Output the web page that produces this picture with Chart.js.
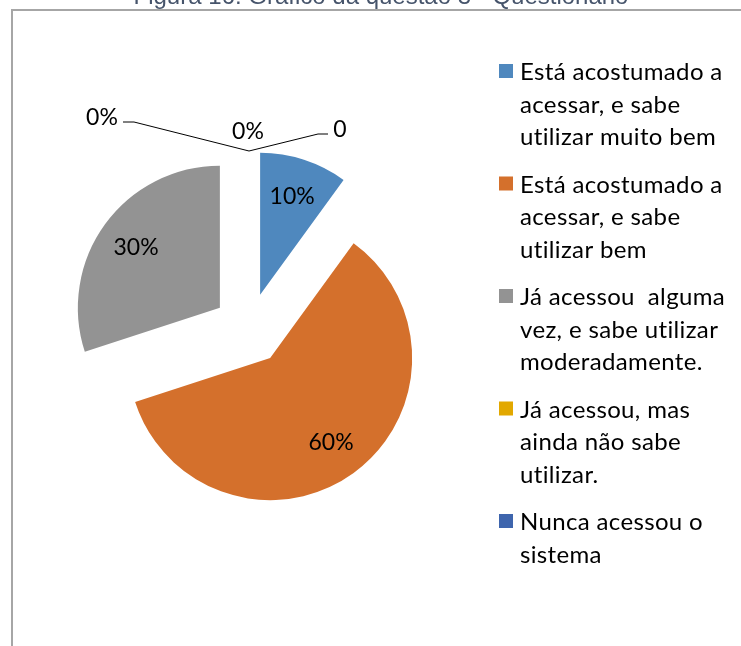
<!DOCTYPE html>
<html>
<head>
<meta charset="utf-8">
<script src="https://cdn.jsdelivr.net/npm/chart.js@4"></script>
<style>
  html, body { margin: 0; padding: 0; background: #ffffff; overflow: hidden; }
  #wrap { position: relative; width: 741px; height: 646px; }
  #frame { position: absolute; left: 11px; top: 9px; width: 800px; height: 700px;
           border-top: 2px solid #a6a6a6; border-left: 2px solid #a6a6a6; }
  #c { position: absolute; left: 0; top: 0; }
</style>
</head>
<body>
<div id="wrap">
  <div id="frame"></div>
  <canvas id="c" width="741" height="646"></canvas>
</div>
<script>
// ---- data ----
const titleText = "Figura 16: Gráfico da questão 3 - Questionário";
const categories = [
  ["Está acostumado a", "acessar, e sabe", "utilizar muito bem"],
  ["Está acostumado a", "acessar, e sabe", "utilizar bem"],
  ["Já acessou  alguma", "vez, e sabe utilizar", "moderadamente."],
  ["Já acessou, mas", "ainda não sabe", "utilizar."],
  ["Nunca acessou o", "sistema"]
];
const values = [10, 60, 30, 0, 0];
const colors = ["#4F88BE", "#D4702C", "#939393", "#E2A800", "#3E65AD"];
const extraZeroLabel = "0";

// ---- style constants ----
const EXPLODE = 36;
const RADIUS = 142;
const LABEL_FONT = "23px Lato";
const LEGEND_FONT = "24px Lato";

const explodePlugin = {
  id: 'explode',
  afterDatasetUpdate(chart, args) {
    args.meta.data.forEach(arc => {
      const mid = (arc.startAngle + arc.endAngle) / 2;
      arc.x += EXPLODE * Math.cos(mid);
      arc.y += EXPLODE * Math.sin(mid);
    });
  }
};

const labelPlugin = {
  id: 'labels',
  afterDatasetsDraw(chart) {
    const ctx = chart.ctx;
    const meta = chart.getDatasetMeta(0);
    const total = values.reduce((a, b) => a + b, 0);
    ctx.save();
    ctx.font = LABEL_FONT;
    ctx.fillStyle = "#000000";
    ctx.textBaseline = "alphabetic";
    ctx.textAlign = "center";
    let zeroIdx = 0;
    let anchor = null;
    meta.data.forEach((arc, i) => {
      const mid = (arc.startAngle + arc.endAngle) / 2;
      const txt = Math.round(values[i] / total * 100) + "%";
      if (values[i] > 0) {
        const r = arc.outerRadius * 0.73;
        const x = arc.x + r * Math.cos(mid);
        const y = arc.y + r * Math.sin(mid);
        ctx.fillText(txt, x, y + 8);
      } else {
        const ax = arc.x + arc.outerRadius * Math.cos(mid);
        const ay = arc.y + arc.outerRadius * Math.sin(mid);
        anchor = [ax, ay];
        if (zeroIdx === 0) {
          ctx.strokeStyle = "#000";
          ctx.lineWidth = 1;
          ctx.beginPath();
          ctx.moveTo(ax, ay);
          ctx.lineTo(ax - 115, ay - 29);
          ctx.lineTo(ax - 126, ay - 29);
          ctx.stroke();
          ctx.fillText(txt, ax - 147, ay - 26);
        } else {
          ctx.fillText(txt, ax - 1, ay - 12);
        }
        zeroIdx++;
      }
    });
    if (anchor) {
      const [ax, ay] = anchor;
      ctx.beginPath();
      ctx.moveTo(ax, ay);
      ctx.lineTo(ax + 69, ay - 17);
      ctx.lineTo(ax + 79, ay - 17);
      ctx.stroke();
      ctx.fillText(extraZeroLabel, ax + 91, ay - 14);
    }
    ctx.restore();
  }
};

const legendPlugin = {
  id: 'customLegend',
  afterDraw(chart) {
    const ctx = chart.ctx;
    ctx.save();
    // title (cut off at top)
    ctx.font = "24px 'Liberation Sans', Arial, sans-serif";
    ctx.fillStyle = "#46546B";
    ctx.textAlign = "center";
    ctx.textBaseline = "alphabetic";
    ctx.fillText(titleText, 381, 4);

    ctx.font = LEGEND_FONT;
    if ('letterSpacing' in ctx) ctx.letterSpacing = "0.35px";
    ctx.textAlign = "left";
    ctx.fillStyle = "#000000";
    const lineH = 32.5, entryH = 112.5, y0 = 80;
    categories.forEach((lines, i) => {
      const base = y0 + i * entryH;
      ctx.fillStyle = colors[i];
      ctx.fillRect(499, base - 16, 14, 14);
      ctx.fillStyle = "#000000";
      lines.forEach((ln, j) => ctx.fillText(ln, 520, base + j * lineH));
    });
    ctx.restore();
  }
};

new Chart(document.getElementById('c'), {
  type: 'pie',
  data: {
    labels: categories,
    datasets: [{
      data: values,
      backgroundColor: colors,
      borderWidth: 0
    }]
  },
  options: {
    responsive: false,
    animation: false,
    devicePixelRatio: 1,
    radius: RADIUS,
    layout: { padding: { left: 40, right: 283, top: 40, bottom: 28 } },
    plugins: {
      legend: { display: false },
      tooltip: { enabled: false },
      title: { display: false }
    },
    events: []
  },
  plugins: [explodePlugin, labelPlugin, legendPlugin]
});
</script>
</body>
</html>
